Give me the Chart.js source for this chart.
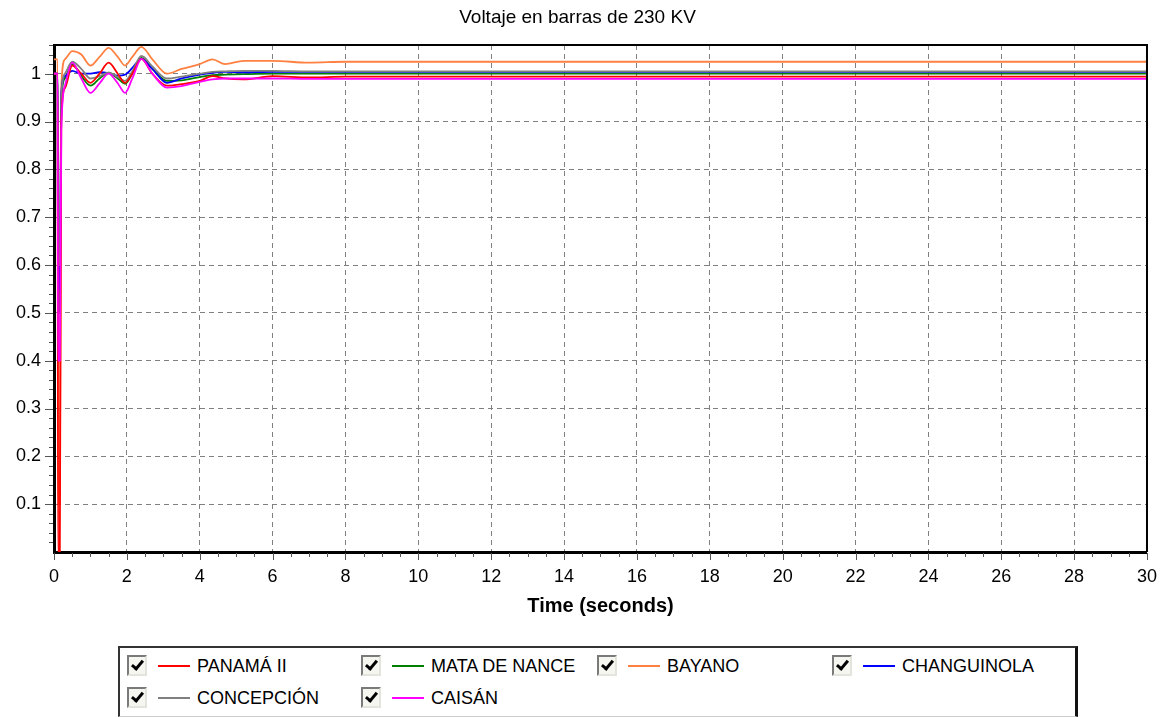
<!DOCTYPE html>
<html>
<head>
<meta charset="utf-8">
<script src="https://cdn.jsdelivr.net/npm/chart.js@4.4.0/dist/chart.umd.min.js"></script>
<style>
  body { margin: 0; background: #fff; overflow: hidden; font-family: "Liberation Sans", Arial, sans-serif; }
  #wrap { position: relative; width: 1171px; height: 717px; }
  #c { position: absolute; left: 0; top: 0; }
  #legend {
    position: absolute; left: 118px; top: 646px; width: 955px; height: 68px;
    border-top: 2px solid #333; border-left: 2px solid #333;
    border-right: 3px solid #111; border-bottom: 1px solid #ccc;
    background: #fff;
  }
  .item { position: absolute; height: 22px; }
  .chk {
    position: absolute; left: 0; top: 0; width: 16px; height: 17px;
    border: 2px solid; border-color: #7a7a7a #e4e4dc #e4e4dc #7a7a7a;
    background: #f6f6f0;
  }
  .chk::after {
    content: ""; position: absolute; left: 5px; top: 1px; width: 4px; height: 9px;
    border-right: 3px solid #000; border-bottom: 3px solid #000;
    transform: rotate(40deg);
  }
  .ln { position: absolute; left: 31px; top: 10px; width: 32px; height: 2px; }
  .txt { position: absolute; left: 70px; top: 0; font-size: 18px; line-height: 22px; color: #000; white-space: nowrap; }
</style>
</head>
<body>
<div id="wrap">
  <canvas id="c" width="1171" height="640"></canvas>
  <div id="legend"></div>
</div>
<script>
// tiempo (s)
const timeS = [0, 0.1, 0.11, 0.16, 0.2, 0.3, 0.5, 0.75, 1.0, 1.25, 1.5, 1.75, 1.95, 2.15, 2.4, 2.7, 3.1, 3.5, 4.0, 4.35, 4.7, 5.2, 6, 7, 8, 10, 15, 20, 30];

// voltajes en p.u.
const panama2   = [1.0, 1.0, 0.0, 0.0, 0.9, 0.97, 1.017, 1.0, 0.981, 1.0, 1.023, 1.0, 0.981, 1.0, 1.031, 1.0, 0.975, 0.978, 0.985, 0.995, 0.99, 0.988, 0.995, 0.992, 0.994, 0.994, 0.994, 0.994, 0.994];
const mataNance = [1.0, 1.0, 0.5, 0.5, 0.94, 0.99, 1.02, 0.995, 0.975, 0.99, 1.002, 0.99, 0.979, 1.0, 1.033, 1.01, 0.985, 0.986, 0.993, 0.997, 0.998, 0.999, 1.0, 1.0, 1.0, 1.0, 1.0, 1.0, 1.0];
const bayano    = [1.03, 1.03, 0.1, 0.1, 0.97, 1.03, 1.047, 1.04, 1.017, 1.035, 1.054, 1.035, 1.017, 1.035, 1.056, 1.03, 1.0, 1.01, 1.02, 1.03, 1.02, 1.027, 1.027, 1.023, 1.025, 1.025, 1.025, 1.025, 1.025];
const changuinola = [1.0, 1.0, 0.55, 0.55, 0.96, 0.995, 1.006, 1.0, 1.0, 1.003, 1.001, 0.996, 0.998, 1.012, 1.031, 1.01, 0.981, 0.99, 0.998, 1.002, 1.004, 1.003, 1.004, 1.004, 1.004, 1.004, 1.004, 1.004, 1.004];
const concepcion = [1.0, 1.0, 0.6, 0.6, 0.95, 1.0, 1.025, 1.01, 0.99, 0.995, 1.002, 0.993, 0.985, 1.005, 1.037, 1.015, 0.99, 0.994, 1.0, 1.004, 1.005, 1.006, 1.006, 1.005, 1.005, 1.005, 1.005, 1.005, 1.005];
const caisan    = [1.0, 1.0, 0.4, 0.4, 0.88, 0.975, 1.023, 0.99, 0.96, 0.98, 1.0, 0.98, 0.96, 0.99, 1.031, 1.0, 0.971, 0.974, 0.983, 0.988, 0.99, 0.99, 0.99, 0.989, 0.989, 0.989, 0.989, 0.989, 0.989];

const seriesNames  = ["PANAMÁ II", "MATA DE NANCE", "BAYANO", "CHANGUINOLA", "CONCEPCIÓN", "CAISÁN"];
const seriesColors = ["#ff0000", "#008000", "#ff8040", "#0000ff", "#808080", "#ff00ff"];
const seriesData   = [panama2, mataNance, bayano, changuinola, concepcion, caisan];
const drawOrder    = [1, 4, 5, 3, 2, 0]; // el menor se dibuja encima

const xTicks = [0, 2, 4, 6, 8, 10, 12, 14, 16, 18, 20, 22, 24, 26, 28, 30];
const yTicks = [0.1, 0.2, 0.3, 0.4, 0.5, 0.6, 0.7, 0.8, 0.9, 1.0];

const FONT = "'Liberation Sans', Arial, sans-serif";

// marco superior/derecho y marcas menores
const marcoPlugin = {
  id: "marco",
  afterDraw(chart) {
    const { ctx, chartArea: a, scales: { x, y } } = chart;
    ctx.save();
    ctx.strokeStyle = "#000";
    ctx.lineWidth = 2;
    ctx.beginPath();
    ctx.moveTo(a.left, a.top);
    ctx.lineTo(a.right, a.top);
    ctx.lineTo(a.right, a.bottom);
    ctx.stroke();

    ctx.strokeStyle = "#555";
    ctx.lineWidth = 1;
    ctx.beginPath();
    for (let i = 0; i <= 60; i++) {
      const px = Math.round(x.getPixelForValue(i * 0.5)) + 0.5;
      const len = i % 4 === 0 ? 7 : 4;
      ctx.moveTo(px, a.bottom + 1);
      ctx.lineTo(px, a.bottom + 1 + len);
    }
    for (let i = 1; i <= 53; i++) {
      const py = Math.round(y.getPixelForValue(i * 0.02)) + 0.5;
      const len = i % 5 === 0 ? 8 : 4;
      ctx.moveTo(a.left - 1, py);
      ctx.lineTo(a.left - 1 - len, py);
    }
    ctx.stroke();
    ctx.restore();
  }
};

new Chart(document.getElementById("c").getContext("2d"), {
  type: "line",
  data: {
    datasets: seriesNames.map((name, i) => ({
      label: name,
      data: timeS.map((t, k) => ({ x: t, y: seriesData[i][k] })),
      borderColor: seriesColors[i],
      borderWidth: 1.8,
      pointRadius: 0,
      fill: false,
      cubicInterpolationMode: "monotone",
      order: drawOrder[i]
    }))
  },
  options: {
    responsive: false,
    animation: false,
    layout: { padding: { left: 0, right: 16, top: 0, bottom: 0 } },
    plugins: {
      legend: { display: false },
      tooltip: { enabled: false },
      title: {
        display: true,
        text: "Voltaje en barras de 230 KV",
        color: "#000",
        font: { family: FONT, size: 19, weight: "normal" },
        padding: { top: 6, bottom: 16.2 }
      }
    },
    scales: {
      x: {
        type: "linear",
        min: 0,
        max: 30,
        afterFit: s => { s.height = 88; },
        afterBuildTicks: s => { s.ticks = xTicks.map(v => ({ value: v })); },
        grid: { color: "#808080", lineWidth: 1, drawTicks: false },
        border: { color: "#000", width: 3, dash: [5, 4] },
        ticks: { color: "#000", padding: 14, font: { family: FONT, size: 18 }, maxRotation: 0, callback: v => String(v) },
        title: {
          display: true,
          text: "Time (seconds)",
          color: "#000",
          font: { family: FONT, size: 20, weight: "bold" },
          padding: { top: 0, bottom: 22 }
        }
      },
      y: {
        type: "linear",
        min: 0,
        max: 1.06,
        afterFit: s => { s.width = 54; },
        afterBuildTicks: s => { s.ticks = yTicks.map(v => ({ value: v })); },
        grid: { color: "#808080", lineWidth: 1, drawTicks: false },
        border: { color: "#000", width: 3, dash: [5, 4] },
        ticks: { color: "#000", padding: 13, font: { family: FONT, size: 18 }, callback: v => String(+v.toFixed(1)) }
      }
    }
  },
  plugins: [marcoPlugin]
});

// leyenda tipo casillas
const leyenda = document.getElementById("legend");
const colX = [127, 361, 597, 832];
const rowY = [655, 687];
seriesNames.forEach((name, i) => {
  const it = document.createElement("div");
  it.className = "item";
  it.style.left = (colX[i % 4] - 120) + "px";
  it.style.top = (rowY[Math.floor(i / 4)] - 648) + "px";
  it.innerHTML = '<span class="chk"></span><span class="ln" style="background:' + seriesColors[i] + '"></span><span class="txt">' + name + '</span>';
  leyenda.appendChild(it);
});
</script>
</body>
</html>
